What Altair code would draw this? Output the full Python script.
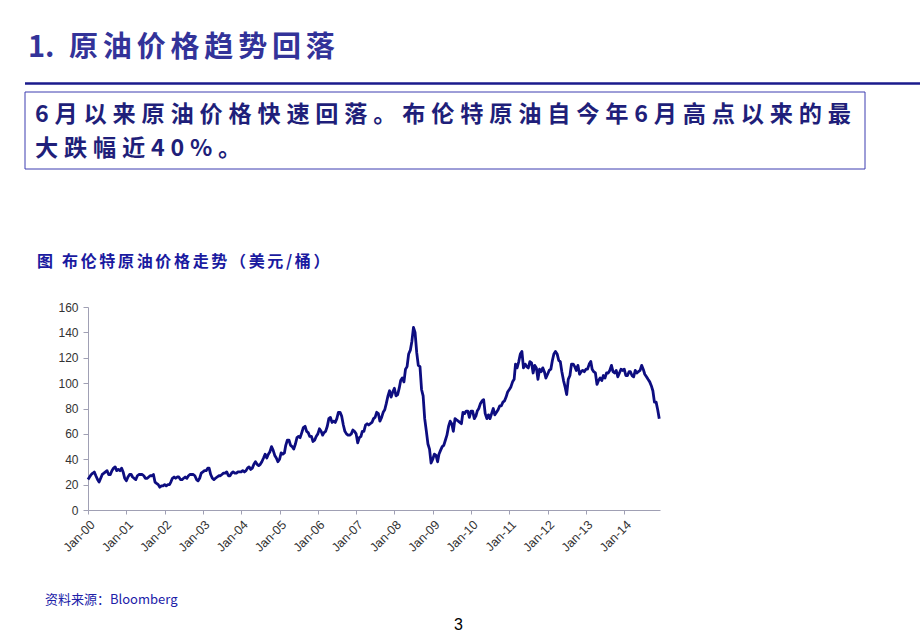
import altair as alt
import pandas as pd

# ---- data: Brent crude (USD/bbl), semi-monthly readings (1st and 16th of each month)
p2000 = [24, 26, 28, 29, 30, 27, 24, 22, 25, 28, 29, 30, 31, 28, 28, 31, 33, 34, 31, 32, 31, 33, 30, 25]
p2001 = [23, 26, 28, 28, 26, 25, 24, 27, 28, 28, 28, 27, 25, 25, 26, 27, 27, 28, 22, 21, 20, 18, 19, 19]
p2002 = [20, 19, 20, 20, 22, 25, 26, 25, 26, 26, 24, 24, 25, 26, 25, 27, 28, 28, 28, 27, 24, 23, 25, 29]
p2003 = [30, 31, 31, 33, 33, 28, 25, 24, 25, 26, 27, 27, 28, 29, 29, 30, 27, 27, 29, 30, 29, 29, 30, 30]
p2004 = [30, 31, 30, 31, 33, 34, 32, 33, 36, 38, 36, 35, 36, 38, 41, 44, 41, 44, 46, 50, 47, 43, 41, 38]
p2005 = [40, 45, 44, 45, 51, 55, 55, 51, 50, 48, 52, 57, 58, 57, 61, 65, 66, 62, 61, 58, 58, 54, 55, 58]
p2006 = [60, 64, 62, 59, 61, 62, 66, 72, 73, 69, 70, 69, 72, 77, 77, 74, 67, 62, 60, 59, 59, 60, 63, 62]
p2007 = [60, 53, 57, 58, 62, 62, 67, 68, 67, 68, 69, 72, 73, 77, 76, 70, 73, 77, 79, 84, 90, 94, 89, 93]
p2008 = [96, 90, 91, 96, 102, 104, 101, 111, 113, 123, 126, 133, 144, 140, 124, 114, 113, 95, 90, 72, 62, 52, 48, 37]
p2009 = [40, 44, 43, 38, 44, 47, 50, 51, 55, 59, 66, 70, 68, 62, 72, 71, 70, 69, 68, 77, 76, 78, 78, 73]
p2010 = [78, 78, 72, 74, 78, 80, 84, 86, 87, 76, 72, 75, 72, 76, 80, 75, 77, 79, 82, 82, 85, 86, 89, 93]
p2011 = [95, 97, 101, 103, 115, 112, 117, 123, 125, 112, 115, 113, 112, 117, 116, 108, 114, 112, 103, 111, 109, 112, 109, 104]
p2012 = [107, 110, 111, 118, 123, 125, 123, 118, 117, 109, 102, 97, 91, 103, 106, 115, 115, 113, 110, 114, 107, 109, 110, 109]
p2013 = [111, 111, 115, 117, 111, 109, 108, 99, 102, 104, 102, 106, 104, 108, 108, 110, 114, 109, 108, 110, 105, 108, 111, 110]
p2014 = [111, 106, 106, 109, 109, 106, 105, 110, 108, 109, 110, 114, 111, 107, 105, 103, 101, 98, 94, 85, 85, 79, 72]

years = list(range(2000, 2015))
series = [p2000, p2001, p2002, p2003, p2004, p2005, p2006, p2007,
          p2008, p2009, p2010, p2011, p2012, p2013, p2014]

y_ticks = [0, 20, 40, 60, 80, 100, 120, 140, 160]
x_tick_years = list(range(2000, 2015))

title_num = "1."
title_words = "原油价格趋势回落"
box_line1 = "6月以来原油价格快速回落。布伦特原油自今年6月高点以来的最"
box_line2 = "大跌幅近40%。"
caption_text = "图 布伦特原油价格走势（美元/桶）"
source_text = "资料来源：Bloomberg"
page_text = "3"

rows = []
for yr, vals in zip(years, series):
    for i, v in enumerate(vals):
        m = i // 2 + 1
        d = 1 if i % 2 == 0 else 16
        if m > 12:
            m, d = 12, 1
        rows.append({"date": f"{yr}-{m:02d}-{d:02d}", "price": v})
# last 2014 value is the start of December
rows[-1]["date"] = "2014-12-01"
df = pd.DataFrame(rows)


def spaced(s, sp="\u2006"):
    return sp.join(list(s))


CJK = "Noto Sans CJK SC"
NAVY = "#1f1f7a"

line = alt.Chart(df).mark_line(color="#0d0d80", strokeWidth=2.8, strokeJoin="round").encode(
    x=alt.X("date:T",
            scale=alt.Scale(type="utc", domain=[alt.DateTime(year=2000, month=1, date=1, utc=True),
                                                 alt.DateTime(year=2014, month=12, date=8, utc=True)]),
            axis=alt.Axis(title=None, format="%b-%y", labelAngle=-45,
                          values=[alt.DateTime(year=y, month=1, date=1, utc=True) for y in x_tick_years],
                          labelFont="Liberation Sans", labelFontSize=12.5, labelColor="#333333",
                          labelPadding=4, tickSize=4, grid=False)),
    y=alt.Y("price:Q", scale=alt.Scale(domain=[0, 160], nice=False),
            axis=alt.Axis(title=None, values=y_ticks, labelFont="Liberation Sans", labelFontSize=12,
                          labelColor="#333333", tickSize=5, labelPadding=5, grid=False)),
)

one = pd.DataFrame({"k": [0]})


def txt(s, x, y, size, color, weight="normal", font=CJK):
    return alt.Chart(pd.DataFrame({"t": [s]})).mark_text(
        align="left", baseline="alphabetic", fontSize=size, font=font,
        fontWeight=weight, color=color).encode(
        text="t:N", x=alt.value(x), y=alt.value(y))


# offsets relative to plot origin (88, 307)
title = txt(title_num + "\u2002" + spaced(title_words, "\u2006"), -60, -250, 29, "#333399", "bold")
rule = alt.Chart(one).mark_rule(color="#1a1a8c", strokeWidth=2.5).encode(
    x=alt.value(-63), x2=alt.value(832), y=alt.value(-223.5))
box = alt.Chart(one).mark_rect(fill="white", fillOpacity=0, stroke="#3c3cb0", strokeWidth=1).encode(
    x=alt.value(-63), x2=alt.value(777), y=alt.value(-215), y2=alt.value(-138))
l1 = txt(spaced(box_line1, "\u2005"), -53, -185, 23.2, NAVY, "bold")
l2 = txt(spaced(box_line2, "\u2005"), -53, -151, 23.2, NAVY, "bold")
cap = txt(spaced(caption_text), -51, -40, 16, "#1a1aa0", "bold")
src = txt(source_text, -43, 297, 13, "#2020a8")
page = txt(page_text, 366, 323, 16, "black", font="Liberation Sans")

chart = alt.layer(box, rule, title, l1, l2, cap, line, src, page).properties(
    width=572, height=203,
    autosize=alt.AutoSizeParams(type="none"),
    padding={"left": 88, "top": 307, "right": 260, "bottom": 127},
    background="white",
).configure_view(stroke=None).configure_axis(domainColor="#a0a0b4", tickColor="#a0a0b4")

chart.save("out.html", embed_options={"renderer": "svg", "actions": False})
